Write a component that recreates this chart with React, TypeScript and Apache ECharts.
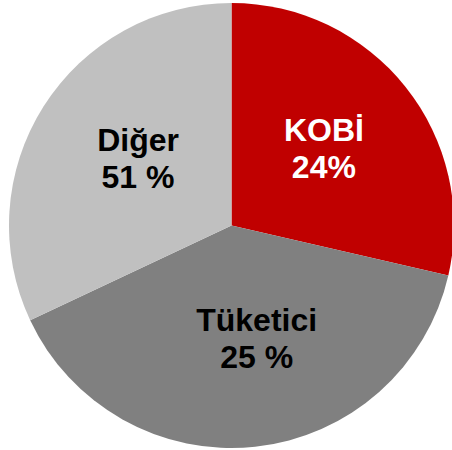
import React, { useEffect, useRef } from "react";
import * as echarts from "echarts";

const categories = ["KOBİ", "Tüketici", "Diğer"];
const sliceValues = [28.6, 39.4, 32.0];
const percentLabels = ["24%", "25 %", "51 %"];
const colors = ["#C00000", "#808080", "#C0C0C0"];
const labelColors = ["#ffffff", "#000000", "#000000"];
const labelShift = [
  [3, -6],
  [13, -1],
  [3, -6],
];

export default function App() {
  const ref = useRef<HTMLDivElement>(null);
  useEffect(() => {
    if (!ref.current) return;
    const chart = echarts.init(ref.current, undefined, { renderer: "svg" });
    chart.setOption({
      animation: false,
      backgroundColor: "#ffffff",
      series: [
        {
          type: "pie",
          center: [231.5, 225.5],
          radius: [0, 222.5],
          startAngle: 90,
          clockwise: true,
          avoidLabelOverlap: false,
          labelLine: { show: false },
          itemStyle: { borderWidth: 0 },
          emphasis: { disabled: true },
          labelLayout: (params: any) => ({
            dx: labelShift[params.dataIndex][0],
            dy: labelShift[params.dataIndex][1],
          }),
          data: categories.map((name, i) => ({
            name,
            value: sliceValues[i],
            itemStyle: { color: colors[i] },
            label: {
              show: true,
              position: "inside",
              formatter: name + "\n" + percentLabels[i],
              color: labelColors[i],
              fontFamily: "'Liberation Sans', Arial, sans-serif",
              fontWeight: "bold",
              fontSize: 32,
              lineHeight: 37,
              align: "center",
              textBorderWidth: 0,
            },
          })),
        },
      ],
    });
    return () => chart.dispose();
  }, []);
  return (
    <div
      ref={ref}
      style={{ position: "fixed", left: 0, top: 0, width: 452, height: 450 }}
    />
  );
}
